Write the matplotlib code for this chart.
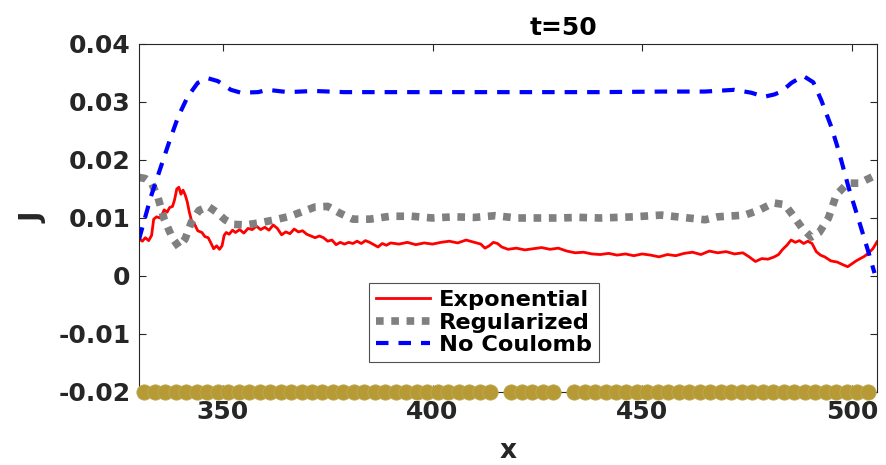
import matplotlib
matplotlib.use("Agg")
import matplotlib.pyplot as plt
import numpy as np

plt.rcParams['font.family'] = ['DejaVu Sans']
plt.rcParams['font.weight'] = 'bold'

# Exponential interaction current
exp_x = [330.0, 330.8, 331.5, 332.3, 333.0, 333.5, 334.2, 335.0, 335.5, 336.0,
         336.7, 337.3, 338.0, 338.5, 339.0, 339.5, 340.0, 340.5, 341.0, 341.5,
         342.0, 342.5, 343.2, 344.0, 345.0, 345.7, 346.5, 347.2, 347.8, 348.5,
         349.2, 349.8, 350.3, 350.8, 351.5, 352.3, 353.0, 354.0, 355.0, 356.0,
         357.0, 358.0, 359.0, 360.0, 361.0, 362.0, 363.0, 364.0, 365.0, 366.0,
         367.0, 368.0, 369.0, 370.0, 371.0, 372.0, 373.0, 374.0, 375.0, 376.0,
         377.0, 378.0, 379.0, 380.0, 381.0, 382.0, 383.0, 384.0, 385.0, 386.0,
         387.0, 388.0, 389.0, 390.0, 392.0, 394.0, 396.0, 398.0, 400.0, 402.0,
         404.0, 406.0, 408.0, 410.0, 411.5, 412.5, 413.5, 414.5, 415.5, 416.5,
         418.0, 420.0, 422.0, 424.0, 426.0, 428.0, 430.0, 432.0, 434.0, 436.0,
         438.0, 440.0, 442.0, 444.0, 446.0, 448.0, 450.0, 452.0, 454.0, 456.0,
         458.0, 460.0, 462.0, 464.0, 466.0, 468.0, 470.0, 472.0, 474.0, 475.5,
         477.0, 478.5, 480.0, 481.5, 482.5, 483.5, 484.5, 485.5, 486.5, 487.5,
         488.5, 489.5, 490.5, 491.5, 492.5, 493.5, 495.0, 496.5, 498.0, 499.0,
         500.0, 501.0, 502.0, 503.0, 504.0, 505.0, 506.0]
exp_j = [0.0064, 0.0060, 0.0066, 0.0061, 0.0070, 0.0098, 0.0102, 0.0100, 0.0106, 0.0114,
         0.0110, 0.0118, 0.0120, 0.0132, 0.0150, 0.0153, 0.0141, 0.0148, 0.0140, 0.0128,
         0.0110, 0.0096, 0.0090, 0.0078, 0.0075, 0.0068, 0.0066, 0.0056, 0.0047, 0.0052,
         0.0046, 0.0052, 0.0070, 0.0075, 0.0072, 0.0079, 0.0075, 0.0080, 0.0074, 0.0082,
         0.0080, 0.0086, 0.0080, 0.0084, 0.0079, 0.0088, 0.0082, 0.0071, 0.0076, 0.0073,
         0.0081, 0.0076, 0.0078, 0.0072, 0.0069, 0.0066, 0.0069, 0.0066, 0.0060, 0.0062,
         0.0054, 0.0058, 0.0055, 0.0058, 0.0056, 0.0060, 0.0056, 0.0061, 0.0058, 0.0054,
         0.0050, 0.0056, 0.0053, 0.0057, 0.0055, 0.0058, 0.0054, 0.0057, 0.0055, 0.0058,
         0.0060, 0.0057, 0.0062, 0.0058, 0.0055, 0.0048, 0.0052, 0.0058, 0.0056, 0.0050,
         0.0046, 0.0048, 0.0045, 0.0047, 0.0049, 0.0046, 0.0048, 0.0043, 0.0040, 0.0041,
         0.0038, 0.0037, 0.0039, 0.0036, 0.0038, 0.0035, 0.0038, 0.0036, 0.0033, 0.0037,
         0.0035, 0.0039, 0.0041, 0.0037, 0.0043, 0.0040, 0.0042, 0.0038, 0.0040, 0.0033,
         0.0025, 0.0030, 0.0029, 0.0033, 0.0037, 0.0046, 0.0053, 0.0062, 0.0058, 0.0061,
         0.0056, 0.0060, 0.0056, 0.0042, 0.0036, 0.0033, 0.0026, 0.0024, 0.0019, 0.0016,
         0.0021, 0.0026, 0.0030, 0.0034, 0.0040, 0.0047, 0.0059]

# Regularized interaction current
reg_x = [330.0, 331.5, 333.0, 334.5, 336.0, 338.0, 339.5, 341.0, 342.5, 344.3,
         346.5, 348.5, 350.5, 352.5, 355.5, 359.0, 362.5, 366.0, 369.0, 372.0,
         375.0, 378.0, 381.0, 385.0, 390.0, 395.0, 400.0, 405.0, 410.0, 415.0,
         420.0, 425.0, 430.0, 435.0, 440.0, 448.0, 454.5, 461.0, 465.0, 468.0,
         474.5, 478.0, 481.3, 484.0, 486.0, 488.0, 490.3, 492.2, 494.4, 496.3,
         499.0, 501.8, 506.0]
reg_j = [0.0170, 0.0168, 0.0160, 0.0136, 0.0098, 0.0065, 0.0050, 0.0064, 0.0093, 0.0113,
         0.0120, 0.0110, 0.0097, 0.0089, 0.0088, 0.0092, 0.0097, 0.0103, 0.0111, 0.0119,
         0.0120, 0.0108, 0.0098, 0.0098, 0.0103, 0.0103, 0.0100, 0.0102, 0.0101, 0.0104,
         0.0100, 0.0100, 0.0100, 0.0101, 0.0100, 0.0102, 0.0105, 0.0100, 0.0097, 0.0102,
         0.0105, 0.0114, 0.0126, 0.0123, 0.0104, 0.0084, 0.0067, 0.0075, 0.0100, 0.0140,
         0.0160, 0.0160, 0.0175]

# Current without Coulomb interaction
noc_x = [330.0, 332.8, 335.2, 337.1, 339.3, 341.6, 344.0, 346.4, 348.8, 351.9,
         354.3, 358.4, 360.7, 365.5, 371.7, 378.9, 386.0, 400.0, 420.0, 440.0,
         455.0, 465.0, 472.0, 476.0, 479.1, 481.5, 483.2, 485.6, 488.4, 490.8,
         492.7, 495.1, 496.8, 499.2, 501.6, 504.0, 505.4]
noc_j = [0.0063, 0.0136, 0.0188, 0.0229, 0.0274, 0.0309, 0.0333, 0.0341, 0.0336, 0.0321,
         0.0316, 0.0317, 0.0321, 0.0317, 0.0319, 0.0317, 0.0317, 0.0317, 0.0317, 0.0317,
         0.0318, 0.0318, 0.0321, 0.0316, 0.0309, 0.0313, 0.0318, 0.0333, 0.0345, 0.0334,
         0.0303, 0.0257, 0.0217, 0.0153, 0.0097, 0.0040, 0.0005]

# Site positions shown along the lower edge (two vacant sites)
site_x = [331.25 + 2.5 * k for k in range(70) if k not in (34, 40)]
site_y = [-0.02] * len(site_x)

legend_labels = ['Exponential', 'Regularized', 'No Coulomb']
x_ticks = [350, 400, 450, 500]
y_ticks = [-0.02, -0.01, 0, 0.01, 0.02, 0.03, 0.04]
y_ticklabels = ['-0.02', '-0.01', '0', '0.01', '0.02', '0.03', '0.04']

fig = plt.figure(figsize=(8.86, 4.65), dpi=100)
ax = fig.add_axes([0.1569, 0.157, 0.8330, 0.7484])

ax.plot(exp_x, exp_j, color='#ff0000', lw=2.0, label=legend_labels[0])
ax.plot(reg_x, reg_j, color='#808080', lw=5.5, dashes=(1, 1),
        dash_capstyle='butt', label=legend_labels[1])
ax.plot(noc_x, noc_j, color='#0000ff', lw=3, dashes=(3.0, 2.4),
        label=legend_labels[2])
ax.plot(site_x, site_y, 'o', color='#b59a35', ms=11, mec='#c2a850',
        mew=0.6, clip_on=False, zorder=5)

ax.set_xlim(330, 506)
ax.set_ylim(-0.02, 0.04)
ax.set_xticks(x_ticks)
ax.set_yticks(y_ticks)
ax.set_yticklabels(y_ticklabels)

axis_col = '#262626'
for s in ax.spines.values():
    s.set_color(axis_col)
    s.set_linewidth(0.8)
ax.tick_params(direction='in', length=5, width=0.8, color=axis_col,
               top=True, right=True, labelsize=18, labelcolor=axis_col, pad=6)
for lab in ax.get_xticklabels() + ax.get_yticklabels():
    lab.set_fontweight('bold')

ax.text(0.575, 1.012, 't=50', transform=ax.transAxes, ha='center', va='bottom',
        fontsize=18, fontweight='bold', color='#000000')
ax.set_xlabel('x', fontsize=19, fontweight='bold', color=axis_col, labelpad=9.5)
ax.set_ylabel('J', fontsize=20, fontweight='bold', color=axis_col, labelpad=8)

leg = ax.legend(loc='lower left', bbox_to_anchor=(0.312, 0.086),
                prop={'size': 16.2, 'weight': 'bold'}, frameon=True,
                fancybox=False, handlelength=2.4, handletextpad=0.4,
                borderpad=0.3, labelspacing=0.12, borderaxespad=0)
leg.get_frame().set_edgecolor('#262626')
leg.get_frame().set_linewidth(0.8)

fig.savefig('out.png', dpi=100)
